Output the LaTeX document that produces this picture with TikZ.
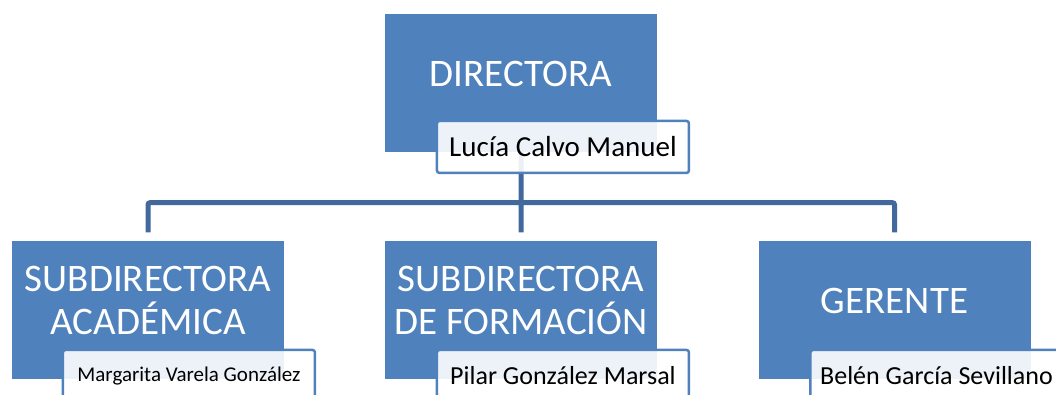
\documentclass[tikz,border=0pt]{standalone}
\usepackage{fontspec}
\setmainfont{Carlito}
\usepackage{tikz}
\usetikzlibrary{positioning}
\usepackage{xcolor}
\definecolor{boxblue}{HTML}{4F81BD}
\definecolor{linkblue}{HTML}{41699D}

\begin{document}
\begin{tikzpicture}[node distance=227pt, on grid,
    role/.style={fill=boxblue, minimum width=272pt, minimum height=138pt, inner sep=0pt},
    title/.style={text=white, font=\fontsize{39}{43}\selectfont, align=center, yshift=9pt},
    person/.style={draw=boxblue, line width=2.5pt, rounded corners=2.5pt, fill=white, fill opacity=0.9, text opacity=1,
        minimum width=252pt, minimum height=52pt, inner sep=0pt, anchor=north east},
    link/.style={draw=linkblue, line width=5pt, rounded corners=2pt}]
    \useasboundingbox (0pt,0pt) rectangle (1056pt,-394pt);

    \node[role, label={[title]center:DIRECTORA}] (dir) at (521pt,-82.5pt) {};
    \node[role, below=227pt of dir, label={[title]center:SUBDIRECTORA\\DE FORMACIÓN}] (form) {};
    \node[role, left=373pt of form, label={[title]center:SUBDIRECTORA\\ACADÉMICA}] (acad) {};
    \node[role, right=373.5pt of form, label={[title]center:GERENTE}] (ger) {};
    \coordinate (hub) at ([yshift=-51pt]dir.south);

    % connectors go behind the name boxes
    \path[link]
        (dir.south) -- (hub)
        (hub) -- ([yshift=8pt]form.north)
        (hub) -| ([yshift=8pt]acad.north)
        (hub) -| ([yshift=8pt]ger.north);

    \node[person, font=\fontsize{29}{30}\selectfont] (dirp) at ([xshift=33pt,yshift=32pt]dir.south east) {Lucía Calvo Manuel};
    \node[person, font=\fontsize{21}{22}\selectfont] (acadp) at ([xshift=32pt,yshift=30pt]acad.south east) {Margarita Varela González};
    \node[person, font=\fontsize{26}{27}\selectfont] (formp) at ([xshift=33pt,yshift=30pt]form.south east) {Pilar González Marsal};
    \node[person, font=\fontsize{26}{27}\selectfont] (gerp) at ([xshift=33pt,yshift=30pt]ger.south east) {Belén García Sevillano};
\end{tikzpicture}
\end{document}
